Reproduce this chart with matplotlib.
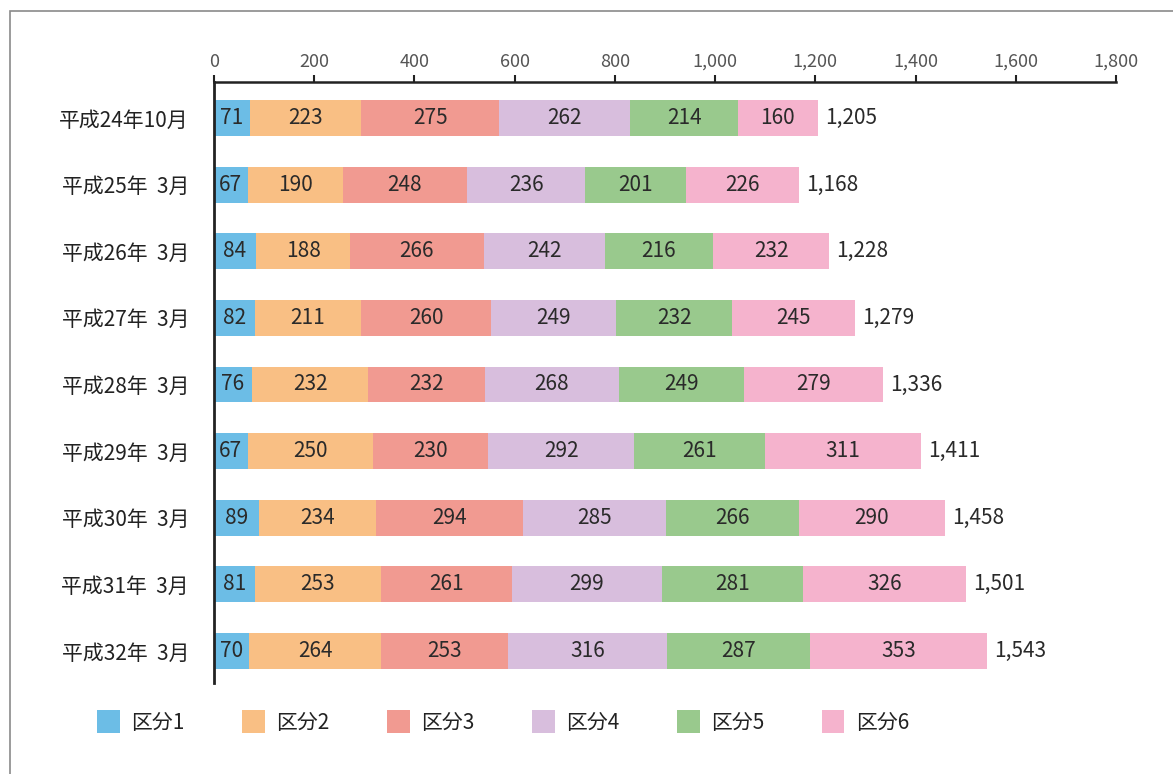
import numpy as np
import matplotlib
matplotlib.use("Agg")
import matplotlib.pyplot as plt
from matplotlib.patches import Rectangle, Patch

plt.rcParams['font.family'] = ['Noto Sans CJK JP', 'DejaVu Sans']

periods = ['平成24年10月', '平成25年  3月', '平成26年  3月', '平成27年  3月', '平成28年  3月',
           '平成29年  3月', '平成30年  3月', '平成31年  3月', '平成32年  3月']
categories = ['区分1', '区分2', '区分3', '区分4', '区分5', '区分6']

kubun1 = [71, 67, 84, 82, 76, 67, 89, 81, 70]
kubun2 = [223, 190, 188, 211, 232, 250, 234, 253, 264]
kubun3 = [275, 248, 266, 260, 232, 230, 294, 261, 253]
kubun4 = [262, 236, 242, 249, 268, 292, 285, 299, 316]
kubun5 = [214, 201, 216, 232, 249, 261, 266, 281, 287]
kubun6 = [160, 226, 232, 245, 279, 311, 290, 326, 353]
totals = [1205, 1168, 1228, 1279, 1336, 1411, 1458, 1501, 1543]

colors = ['#6cbde6', '#f9bf84', '#f19a91', '#d8bedd', '#99c98d', '#f5b3cd']

series = [kubun1, kubun2, kubun3, kubun4, kubun5, kubun6]

fig = plt.figure(figsize=(11.73, 7.74), dpi=100)
ax = fig.add_axes([214 / 1173, 1 - 683 / 774, 902 / 1173, 601 / 774])

# outer frame (runs off the right and bottom edges)
fig.patches.append(Rectangle((10 / 1173, -0.1), 1.2, 1 - 11 / 774 + 0.1,
                             transform=fig.transFigure, fill=False,
                             edgecolor='#8a8a8a', linewidth=1.2))

y = np.arange(len(periods))
left = np.zeros(len(periods))
for vals, col, name in zip(series, colors, categories):
    vals = np.array(vals)
    ax.barh(y, vals, left=left, height=0.54, color=col, label=name, linewidth=0)
    for yi, l, v in zip(y, left, vals):
        ax.text(l + v / 2, yi, f'{v}', ha='center', va='center',
                fontsize=15, color='#2a2a2a')
    left += vals

for yi, t in zip(y, totals):
    ax.text(t + 14, yi, f'{t:,}', ha='left', va='center', fontsize=15, color='#2a2a2a')

ax.set_xlim(0, 1800)
ax.set_ylim(8.48, -0.54)
ax.xaxis.tick_top()
ax.set_xticks(np.arange(0, 1801, 200))
ax.set_xticklabels([f'{v:,}' for v in range(0, 1801, 200)])
ax.tick_params(axis='x', direction='out', length=5, width=1.5, color='#222222',
               labelsize=13, labelcolor='#555555', pad=3)
ax.set_yticks(y)
ax.set_yticklabels(periods)
ax.tick_params(axis='y', length=0, labelsize=15, labelcolor='#222222', pad=18)

for s in ['right', 'bottom']:
    ax.spines[s].set_visible(False)
ax.spines['top'].set_linewidth(1.8)
ax.spines['top'].set_color('#222222')
ax.spines['left'].set_linewidth(2)
ax.spines['left'].set_color('#222222')

handles = [Patch(facecolor=c, edgecolor='none') for c in colors]
fig.legend(handles, categories, loc='center left',
           bbox_to_anchor=(78 / 1173, 1 - 722 / 774), ncol=6, frameon=False,
           fontsize=15, handlelength=1.1, handleheight=1.3, handletextpad=0.55,
           columnspacing=2.75, labelcolor='#222222')

fig.savefig('out.png', dpi=100, facecolor='white')
